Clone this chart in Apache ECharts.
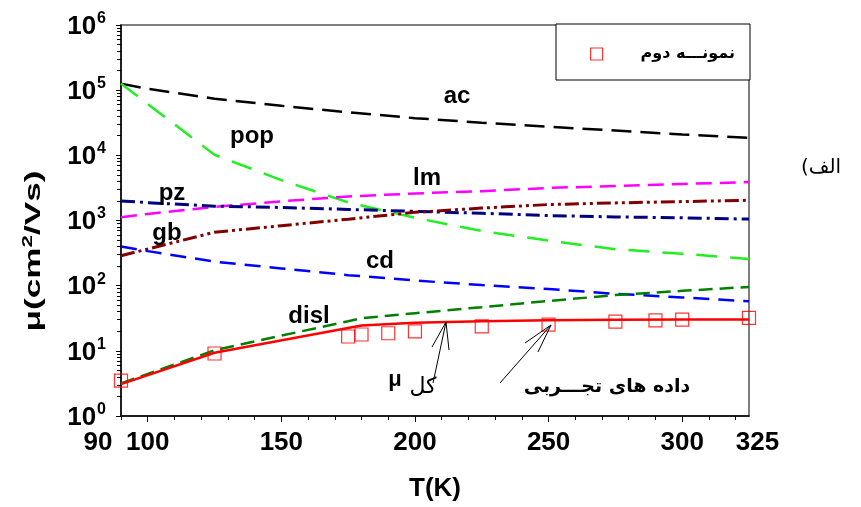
<!DOCTYPE html>
<html><head><meta charset="utf-8">
<script src="https://cdn.jsdelivr.net/npm/echarts@6/dist/echarts.min.js"></script>
<style>html,body{margin:0;padding:0;background:#fff}#c{width:861px;height:507px}</style>
</head><body><div id="c"></div>
<script>
const FONT = 'Liberation Sans, Arial, sans-serif';
const AR = 'DejaVu Sans, sans-serif';

// tick labels
const xTickLabels = [90, 100, 150, 200, 250, 300, 325];
const xMajorTicks = [100, 150, 200, 250, 300];
const yTickLabels = [1, 10, 100, 1000, 10000, 100000, 1000000];

// series values
const tStd = [90, 100, 125, 150, 175, 200, 225, 250, 275, 300, 325];
const ac = [126000, 105000, 74000, 57500, 45700, 37200, 31600, 27500, 24000, 20900, 18600];
const lm = [1120, 1260, 1620, 1970, 2340, 2600, 2820, 3160, 3390, 3630, 3890];
const pz = [2000, 1880, 1660, 1585, 1480, 1380, 1290, 1190, 1135, 1100, 1050];
const cd = [398, 339, 234, 184, 145, 120, 102, 89, 75, 66, 57.5];

const tPop = [90, 125, 150, 175, 200, 225, 250, 275, 300, 325];
const pop = [126000, 10200, 4170, 1900, 1100, 690, 490, 363, 309, 257];

const tGb = [90, 125, 150, 175, 200, 225, 250, 275, 300, 325];
const gb = [288, 661, 832, 1047, 1334, 1549, 1758, 1862, 1950, 2042];

const tDisl = [90, 125, 150, 175, 180, 200, 225, 250, 275, 300, 325];
const disl = [3.16, 10.2, 17.1, 28.5, 31.6, 37.8, 46.8, 58.2, 71.6, 83.2, 95.5];

const tTot = [90, 125, 180, 200, 225, 250, 275, 300, 325];
const total = [3.09, 9.33, 24.5, 26.9, 28.5, 29.5, 29.9, 30.2, 30.2];

const tExp = [90, 125, 175, 180, 190, 200, 225, 250, 275, 290, 300, 325];
const expVals = [3.5, 9.1, 16.6, 17.8, 18.6, 19.9, 23.7, 25.2, 28, 29.3, 30.2, 32];

const legendName = 'نمونـــه دوم';

const pair = (ts, vs) => ts.map((t, i) => [t, vs[i]]);

// axis decoration: minor ticks
const xMinorTicks = [];
for (let v = 90; v <= 320; v += 10) xMinorTicks.push(v);
const yMinorTicksLog = [];
for (let d = 0; d < 6; d++) for (let m = 1; m <= 10; m++) yMinorTicksLog.push(d + Math.log10(m));

const chart = echarts.init(document.getElementById('c'), null, {renderer: 'canvas'});

function line(name, ts, vs, color, width, type, z) {
  return {
    name, type: 'line', data: pair(ts, vs), showSymbol: false, symbol: 'none',
    lineStyle: {color, width, type}, z: z || 2, silent: true
  };
}

const option = {
  animation: false,
  backgroundColor: '#fff',
  grid: {left: 121, top: 25, width: 628, height: 393, show: true, borderColor: '#555', borderWidth: 1.5},
  xAxis: [{
    type: 'value', min: 90, max: 325, position: 'bottom',
    axisLine: {lineStyle: {color: '#000', width: 1.5}},
    axisTick: {customValues: xMinorTicks, length: 4, lineStyle: {color: '#000', width: 1}},
    splitLine: {show: false},
    axisLabel: {
      customValues: xTickLabels, margin: 14, color: '#000',
      fontFamily: FONT, fontSize: 26, fontWeight: 'bold',
      formatter: v => v === 90 ? '{l|90}' : (v === 325 ? '{r|325}' : String(v)),
      rich: {
        l: {fontFamily: FONT, fontSize: 26, fontWeight: 'bold', color: '#000', padding: [0, 46, 0, 0]},
        r: {fontFamily: FONT, fontSize: 26, fontWeight: 'bold', color: '#000', padding: [0, 0, 0, 17]}
      }
    },
    name: 'T(K)', nameLocation: 'middle', nameGap: 60,
    nameTextStyle: {fontFamily: FONT, fontSize: 26, fontWeight: 'bold', color: '#000'}
  }, {
    type: 'value', min: 90, max: 325, position: 'bottom',
    axisLine: {show: false},
    axisTick: {customValues: xMajorTicks, length: 6, lineStyle: {color: '#000', width: 1}},
    axisLabel: {show: false}, splitLine: {show: false}
  }],
  yAxis: [{
    type: 'log', logBase: 10, min: 1, max: 1000000, interval: 1,
    axisLine: {lineStyle: {color: '#000', width: 1.5}},
    axisTick: {show: true, length: 5, lineStyle: {color: '#000'}},
    splitLine: {show: false}, minorTick: {show: false},
    axisLabel: {
      margin: 15, color: '#000',
      formatter: v => '{m|10}{s|' + Math.round(Math.log10(v)) + '}',
      rich: {
        m: {fontFamily: FONT, fontSize: 26, fontWeight: 'bold', color: '#000', verticalAlign: 'bottom'},
        s: {fontFamily: FONT, fontSize: 16, fontWeight: 'bold', color: '#000', verticalAlign: 'bottom', padding: [0, 0, 13, 1]}
      }
    }
  }, {
    type: 'value', min: 0, max: 6, position: 'left',
    axisLine: {show: false},
    axisTick: {customValues: yMinorTicksLog, length: 4, lineStyle: {color: '#000'}},
    axisLabel: {show: false}, splitLine: {show: false}
  }],
  legend: {
    left: 590, top: 46, padding: 0, itemGap: 0, itemWidth: 12, itemHeight: 12,
    textStyle: {fontFamily: AR, fontSize: 16, fontWeight: 'bold', color: '#000', padding: [0, 0, 0, 33]},
    data: [{name: legendName, icon: 'rect', itemStyle: {color: 'rgba(0,0,0,0)', borderColor: '#ff0000', borderWidth: 1.2}}],
    selectedMode: false
  },
  series: [
    line('ac', tStd, ac, '#000000', 2.5, [20, 9]),
    line('pop', tPop, pop, '#22ee22', 2.5, [21, 13]),
    line('lm', tStd, lm, '#ff00ff', 2.5, [16, 8]),
    line('pz', tStd, pz, '#000080', 3, [14, 5, 3, 5]),
    line('gb', tGb, gb, '#800000', 3, [14, 4, 3, 4, 3, 4]),
    line('cd', tStd, cd, '#0000ff', 2.5, [16, 9]),
    line('disl', tDisl, disl, '#008000', 2.5, [14, 7]),
    line('total', tTot, total, '#ff0000', 2.5, 'solid', 3),
    {
      name: legendName, type: 'scatter', data: pair(tExp, expVals), symbol: 'rect', symbolSize: 13, z: 5,
      itemStyle: {color: 'rgba(0,0,0,0)', borderColor: '#ff0000', borderWidth: 1.2}
    }
  ],
  graphic: []
};
chart.setOption(option);

const txt = (x, y, text, extra) => ({
  type: 'text', x, y, z: 10, silent: true,
  style: Object.assign({text, fontFamily: FONT, fontSize: 24, fontWeight: 'bold', fill: '#000', align: 'center', verticalAlign: 'middle'}, extra || {})
});
const seg = pts => ({type: 'polyline', z: 10, silent: true, shape: {points: pts}, style: {stroke: '#000', lineWidth: 1, fill: null}});

chart.setOption({graphic: [
  {type: 'rect', z: 0, silent: true, shape: {x: 556, y: 24, width: 194, height: 56}, style: {fill: '#fff', stroke: '#000', lineWidth: 1}},
  txt(457, 96, 'ac'),
  txt(252, 136, 'pop'),
  txt(427, 178, 'lm'),
  txt(172, 193, 'pz'),
  txt(167, 233, 'gb'),
  txt(380, 261, 'cd'),
  txt(309, 316, 'disl'),
  txt(395, 380, 'μ', {fontSize: 22}),
  txt(423, 387, 'کل', {fontFamily: AR, fontSize: 22, fontWeight: 'normal'}),
  txt(607, 387, 'داده های تجـــربی', {fontFamily: AR, fontSize: 19, fontWeight: 'bold'}),
  txt(821, 168, '(الف', {fontFamily: AR, fontSize: 20, fontWeight: 'normal'}),
  {
    type: 'text', x: 33, y: 251, rotation: Math.PI / 2, scaleX: 1.6, z: 10, silent: true,
    style: {
      text: '{a|μ(cm}{b|2}{a|/Vs)}', align: 'center', verticalAlign: 'middle',
      rich: {
        a: {fontFamily: FONT, fontSize: 22, fontWeight: 'bold', fill: '#000', verticalAlign: 'bottom'},
        b: {fontFamily: FONT, fontSize: 14, fontWeight: 'bold', fill: '#000', verticalAlign: 'bottom', padding: [0, 0, 10, 0]}
      }
    }
  },
  seg([[433, 383], [446, 322]]),
  seg([[432, 347], [446, 322], [449, 350]]),
  seg([[500, 383], [551, 325]]),
  seg([[525, 343], [551, 325], [538, 352]])
]});
</script></body></html>
